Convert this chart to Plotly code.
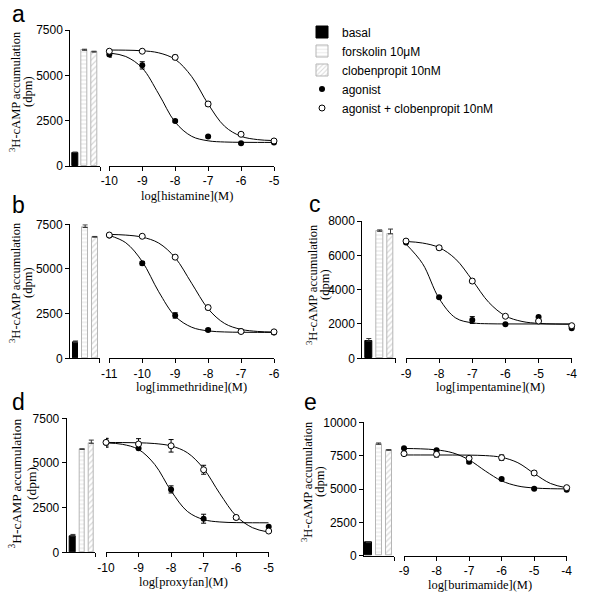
import plotly.graph_objects as go

W, H = 600, 609

bar_names = ["basal", "forskolin 10μM", "clobenpropit 10nM"]

# ---- panel a: histamine ----
a_x = [-10, -9, -8, -7, -6, -5]
a_xlabels = ["-10", "-9", "-8", "-7", "-6", "-5"]
a_ago = [6150, 5550, 2480, 1620, 1250, 1300]
a_ago_err = [150, 200, 60, 60, 40, 60]
a_clob = [6330, 6330, 5990, 3420, 1750, 1380]
a_clob_err = [60, 60, 120, 120, 50, 50]
a_bars = [740, 6380, 6280]
a_bars_err = [30, 60, 50]
a_fit_x = [-10, -9.5, -9, -8.5, -8, -7.5, -7, -6.5, -6, -5.5, -5]
a_fit_ago = [6232, 6039, 5402, 3972, 2419, 1638, 1389, 1323, 1306, 1301, 1300]
a_fit_clob = [6395, 6387, 6354, 6241, 5878, 4935, 3419, 2191, 1639, 1456, 1402]
a_yticks = [0, 2500, 5000, 7500]

# ---- panel b: immethridine ----
b_x = [-11, -10, -9, -8, -7, -6]
b_xlabels = ["-11", "-10", "-9", "-8", "-7", "-6"]
b_ago = [6880, 5320, 2400, 1580, 1520, 1450]
b_ago_err = [80, 100, 150, 80, 60, 100]
b_clob = [6900, 6830, 5660, 2840, 1500, 1480]
b_clob_err = [50, 40, 80, 120, 50, 60]
b_bars = [880, 7320, 6780]
b_bars_err = [90, 150, 40]
b_fit_x = [-11, -10.5, -10, -9.5, -9, -8.5, -8, -7.5, -7, -6.5, -6]
b_fit_ago = [6873, 6468, 5416, 3725, 2355, 1739, 1534, 1474, 1457, 1452, 1450]
b_fit_clob = [6933, 6896, 6781, 6450, 5629, 4200, 2772, 1950, 1619, 1504, 1467]
b_yticks = [0, 2500, 5000, 7500]

# ---- panel c: impentamine ----
c_x = [-9, -8, -7, -6, -5, -4]
c_xlabels = ["-9", "-8", "-7", "-6", "-5", "-4"]
c_ago = [6740, 3550, 2230, 1980, 2400, 1750]
c_ago_err = [60, 60, 200, 40, 80, 80]
c_clob = [6830, 6440, 4500, 2450, 2170, 1900]
c_clob_err = [50, 120, 120, 50, 60, 50]
c_bars = [1000, 7400, 7250]
c_bars_err = [150, 80, 280]
c_fit_x = [-9, -8.5, -8, -7.5, -7, -6.5, -6, -5.5, -5, -4.5, -4]
c_fit_ago = [6651, 5516, 3484, 2349, 2066, 2012, 2003, 2001, 2000, 2000, 2000]
c_fit_clob = [6807, 6716, 6452, 5779, 4555, 3255, 2471, 2147, 2034, 1997, 1985]
c_yticks = [0, 2000, 4000, 6000, 8000]

# ---- panel d: proxyfan ----
d_x = [-10, -9, -8, -7, -6, -5]
d_xlabels = ["-10", "-9", "-8", "-7", "-6", "-5"]
d_ago = [6130, 5820, 3520, 1880, 1950, 1430]
d_ago_err = [250, 80, 200, 250, 100, 60]
d_clob = [6150, 6060, 5960, 4620, 1950, 1190]
d_clob_err = [200, 300, 350, 250, 100, 50]
d_bars = [910, 5760, 6100]
d_bars_err = [90, 30, 180]
d_fit_x = [-10, -9.5, -9, -8.5, -8, -7.5, -7, -6.5, -6, -5.5, -5]
d_fit_ago = [6123, 6045, 5758, 4911, 3440, 2290, 1830, 1697, 1662, 1653, 1651]
d_fit_clob = [6148, 6143, 6130, 6086, 5953, 5574, 4684, 3280, 2034, 1379, 1126]
d_yticks = [0, 2500, 5000, 7500]

# ---- panel e: burimamide ----
e_x = [-9, -8, -7, -6, -5, -4]
e_xlabels = ["-9", "-8", "-7", "-6", "-5", "-4"]
e_ago = [8050, 7900, 7050, 5750, 5020, 4950]
e_ago_err = [60, 60, 150, 80, 60, 80]
e_clob = [7650, 7600, 7300, 7350, 6200, 5100]
e_clob_err = [150, 200, 100, 200, 150, 100]
e_bars = [980, 8350, 7900]
e_bars_err = [30, 100, 50]
e_fit_x = [-9, -8.5, -8, -7.5, -7, -6.5, -6, -5.5, -5, -4.5, -4]
e_fit_ago = [8038, 8012, 7933, 7709, 7182, 6350, 5612, 5224, 5075, 5024, 5008]
e_fit_clob = [7550, 7550, 7549, 7547, 7538, 7504, 7374, 6969, 6160, 5417, 5085]
e_yticks = [0, 2500, 5000, 7500, 10000]

panels = [
    dict(letter="a", drug="histamine", x=a_x, xl=a_xlabels, ago=a_ago, ago_err=a_ago_err,
         clob=a_clob, clob_err=a_clob_err, bars=a_bars, bars_err=a_bars_err,
         fx=a_fit_x, fa=a_fit_ago, fc=a_fit_clob, yt=a_yticks),
    dict(letter="b", drug="immethridine", x=b_x, xl=b_xlabels, ago=b_ago, ago_err=b_ago_err,
         clob=b_clob, clob_err=b_clob_err, bars=b_bars, bars_err=b_bars_err,
         fx=b_fit_x, fa=b_fit_ago, fc=b_fit_clob, yt=b_yticks),
    dict(letter="c", drug="impentamine", x=c_x, xl=c_xlabels, ago=c_ago, ago_err=c_ago_err,
         clob=c_clob, clob_err=c_clob_err, bars=c_bars, bars_err=c_bars_err,
         fx=c_fit_x, fa=c_fit_ago, fc=c_fit_clob, yt=c_yticks),
    dict(letter="d", drug="proxyfan", x=d_x, xl=d_xlabels, ago=d_ago, ago_err=d_ago_err,
         clob=d_clob, clob_err=d_clob_err, bars=d_bars, bars_err=d_bars_err,
         fx=d_fit_x, fa=d_fit_ago, fc=d_fit_clob, yt=d_yticks),
    dict(letter="e", drug="burimamide", x=e_x, xl=e_xlabels, ago=e_ago, ago_err=e_ago_err,
         clob=e_clob, clob_err=e_clob_err, bars=e_bars, bars_err=e_bars_err,
         fx=e_fit_x, fa=e_fit_ago, fc=e_fit_clob, yt=e_yticks),
]

# pixel geometry of each panel: y-axis x, bar-axis end, curve axis start/end, y top/bottom,
# bar axis range, letter pos, y-title lines (x1, x2, y, size), x-title centre
geom = [
    dict(yx=70.3, bend=100, c0=109.3, c1=274, yt=30, yb=166, br=[-0.5, 2.63],
         let=(18.5, 14), ytit=(15, 28, 92, 12.5), xtit=(187, 196)),
    dict(yx=70, bend=99.5, c0=109.3, c1=274, yt=224.3, yb=358.3, br=[-0.58, 2.5],
         let=(18.5, 205), ytit=(15, 28, 283, 12.5), xtit=(191, 387)),
    dict(yx=362.3, bend=395.5, c0=406, c1=571.7, yt=221, yb=358.3, br=[-0.6, 2.46],
         let=(314.5, 204), ytit=(312, 325, 285, 12.5), xtit=(490, 387)),
    dict(yx=66.7, bend=95, c0=106, c1=268.7, yt=418.3, yb=552.3, br=[-0.68, 2.4],
         let=(18.5, 402), ytit=(15.5, 31, 484, 13.5), xtit=(183, 582)),
    dict(yx=364, bend=394.3, c0=404, c1=566.7, yt=422.3, yb=555.7, br=[-0.44, 2.55],
         let=(310.5, 402), ytit=(307, 320, 482, 12.5), xtit=(480, 585)),
]

TICKFONT = dict(family="Liberation Sans, Arial", size=12, color="black")
SERIF = dict(family="Liberation Serif, Times New Roman", size=12.5, color="black")

bar_markers = [
    dict(color="black", line=dict(color="black", width=1)),
    dict(color="white", line=dict(color="#b5b5b5", width=1),
         pattern=dict(shape="-", fgcolor="#c4c4c4", bgcolor="white", size=4, solidity=0.25)),
    dict(color="white", line=dict(color="#b5b5b5", width=1),
         pattern=dict(shape="/", fgcolor="#b0b0b0", bgcolor="white", size=4, solidity=0.3)),
]


def ax_id(n):
    return "" if n == 1 else str(n)


fig = go.Figure()
layout_axes = {}
annotations = []

for i, (p, g) in enumerate(zip(panels, geom)):
    bn, cn, yn = 2 * i + 1, 2 * i + 2, i + 1
    bx, cx, yy = "x" + ax_id(bn), "x" + ax_id(cn), "y" + ax_id(yn)
    first = i == 0

    for k in range(3):
        fig.add_trace(go.Bar(
            x=[k], y=[p["bars"][k]], width=0.6, marker=bar_markers[k],
            error_y=dict(type="data", array=[p["bars_err"][k]], arrayminus=[0],
                         symmetric=False, color="#333", thickness=1, width=2.5),
            xaxis=bx, yaxis=yy, name=bar_names[k], showlegend=first,
        ))

    for fy in (p["fa"], p["fc"]):
        fig.add_trace(go.Scatter(
            x=p["fx"], y=fy, mode="lines", line=dict(color="black", width=1, shape="spline"),
            xaxis=cx, yaxis=yy, showlegend=False, hoverinfo="skip",
        ))

    fig.add_trace(go.Scatter(
        x=p["x"], y=p["ago"], mode="markers", name="agonist", showlegend=first,
        marker=dict(symbol="circle", size=6, color="black"),
        error_y=dict(type="data", array=p["ago_err"], color="black", thickness=1, width=2.5),
        xaxis=cx, yaxis=yy, cliponaxis=False,
    ))
    fig.add_trace(go.Scatter(
        x=p["x"], y=p["clob"], mode="markers", name="agonist + clobenpropit 10nM",
        showlegend=first,
        marker=dict(symbol="circle", size=6, color="white", line=dict(color="black", width=1)),
        error_y=dict(type="data", array=p["clob_err"], color="black", thickness=1, width=2.5),
        xaxis=cx, yaxis=yy, cliponaxis=False,
    ))

    common = dict(showline=True, linecolor="black", linewidth=1, ticks="outside",
                  ticklen=4, tickcolor="black", showgrid=False, zeroline=False,
                  fixedrange=True)
    layout_axes["xaxis" + ax_id(bn)] = dict(
        domain=[g["yx"] / W, g["bend"] / W], range=g["br"], anchor=yy,
        tickvals=[g["br"][1]], showticklabels=False, **common)
    layout_axes["xaxis" + ax_id(cn)] = dict(
        domain=[g["c0"] / W, g["c1"] / W], range=[p["x"][0], p["x"][-1]], anchor=yy,
        tickvals=p["x"], ticktext=p["xl"], tickfont=TICKFONT, **common)
    layout_axes["yaxis" + ax_id(yn)] = dict(
        domain=[1 - g["yb"] / H, 1 - g["yt"] / H], range=[0, p["yt"][-1]], anchor=bx,
        tickvals=p["yt"], ticktext=[str(v) for v in p["yt"]], tickfont=TICKFONT, **common)

    annotations.append(dict(
        text=p["letter"], x=g["let"][0] / W, y=1 - g["let"][1] / H, xref="paper", yref="paper",
        showarrow=False, xanchor="center", yanchor="middle",
        font=dict(family="Liberation Sans, Arial", size=23, color="black")))
    x1, x2, ty, fs = g["ytit"]
    for tx, txt in ((x1, "<sup>3</sup>H-cAMP accumulation"), (x2, "(dpm)")):
        annotations.append(dict(
            text=txt, textangle=-90, x=tx / W, y=1 - ty / H, xref="paper", yref="paper",
            showarrow=False, xanchor="center", yanchor="middle", font=dict(SERIF, size=fs)))
    annotations.append(dict(
        text="log[" + p["drug"] + "](M)", x=g["xtit"][0] / W, y=1 - g["xtit"][1] / H,
        xref="paper", yref="paper", showarrow=False, xanchor="center", yanchor="middle",
        font=SERIF))

fig.update_layout(
    width=W, height=H,
    margin=dict(l=0, r=0, t=0, b=0, pad=0, autoexpand=False),
    paper_bgcolor="white", plot_bgcolor="white",
    showlegend=True,
    legend=dict(x=302 / W, y=1 - 17.5 / H, xanchor="left", yanchor="top",
                font=dict(family="Liberation Sans, Arial", size=12, color="black"),
                bgcolor="rgba(0,0,0,0)", tracegroupgap=0, itemclick=False),
    annotations=annotations,
    bargap=0,
    **layout_axes,
)

# the viewer page keeps the browser's default body margin; drop it so the
# figure sits at the window's top-left corner
fig.write_html("out.html", config={"displayModeBar": False},
               post_script="document.body.style.margin = '0px';")
